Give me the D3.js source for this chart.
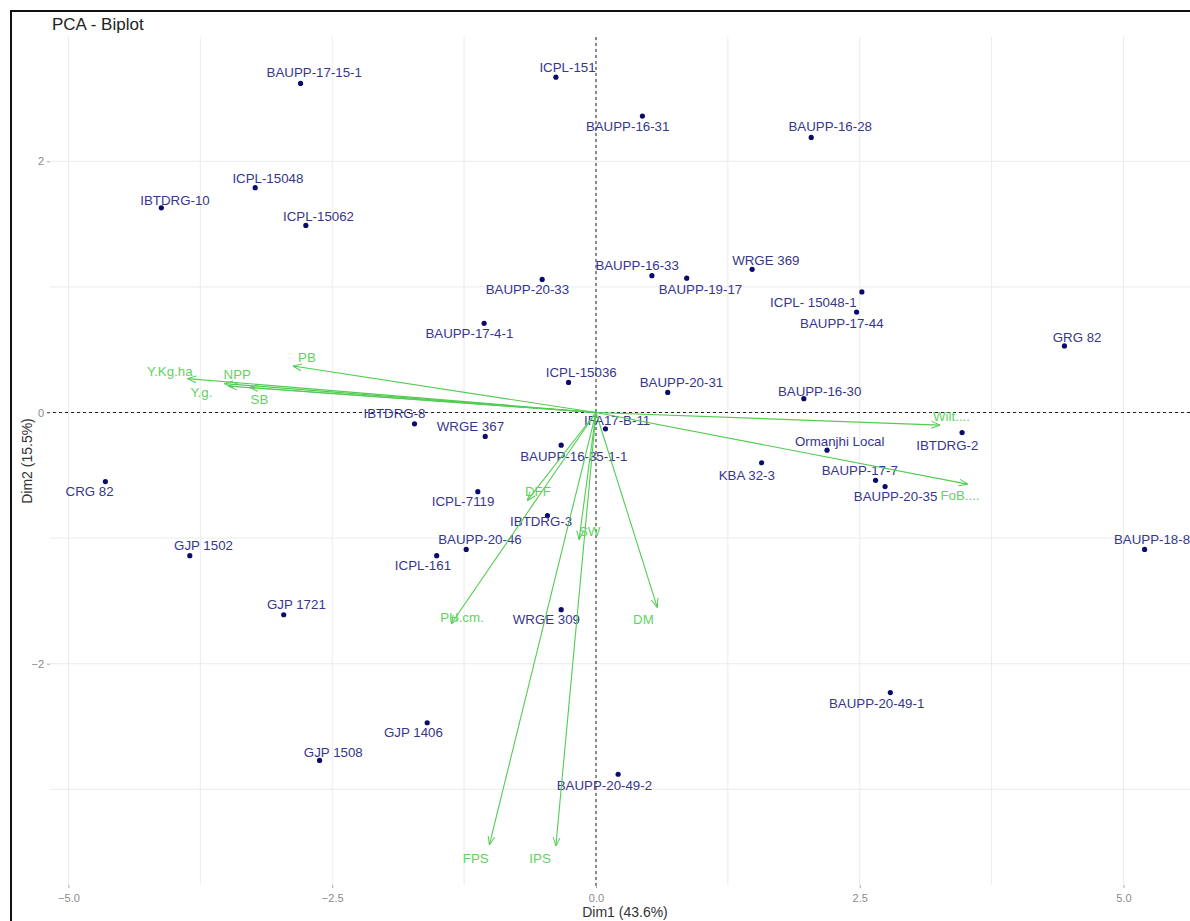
<!DOCTYPE html>
<html>
<head>
<meta charset="utf-8">
<script src="https://cdn.jsdelivr.net/npm/d3@7"></script>
<style>
  html, body { margin: 0; padding: 0; background: #fff; }
  svg { display: block; font-family: "Liberation Sans", Arial, sans-serif; }
</style>
</head>
<body>
<svg id="chart" width="1190" height="921"></svg>
<script>
// ---- Individuals (genotypes): PCA coordinates ----
const genotypes = [
  "BAUPP-17-15-1", "ICPL-151", "BAUPP-16-31", "BAUPP-16-28", "ICPL-15048",
  "IBTDRG-10", "ICPL-15062", "BAUPP-16-33", "WRGE 369", "BAUPP-20-33",
  "BAUPP-19-17", "ICPL- 15048-1", "BAUPP-17-44", "BAUPP-17-4-1", "GRG 82",
  "ICPL-15036", "BAUPP-20-31", "BAUPP-16-30", "IBTDRG-8", "WRGE 367",
  "IFA17-B-11", "IBTDRG-2", "Ormanjhi Local", "BAUPP-16-35-1-1", "KBA 32-3",
  "BAUPP-17-7", "CRG 82", "BAUPP-20-35", "ICPL-7119", "IBTDRG-3",
  "BAUPP-20-46", "GJP 1502", "ICPL-161", "BAUPP-18-8", "GJP 1721",
  "WRGE 309", "BAUPP-20-49-1", "GJP 1406", "GJP 1508", "BAUPP-20-49-2"
];
const dim1 = [
  -2.80, -0.38, 0.44, 2.04, -3.23,
  -4.12, -2.75, 0.53, 1.48, -0.51,
  0.86, 2.52, 2.47, -1.06, 4.44,
  -0.26, 0.68, 1.97, -1.72, -1.05,
  0.09, 3.47, 2.19, -0.33, 1.57,
  2.65, -4.65, 2.74, -1.12, -0.46,
  -1.23, -3.85, -1.51, 5.20, -2.96,
  -0.33, 2.79, -1.60, -2.62, 0.21
];
const dim2 = [
  2.62, 2.67, 2.36, 2.19, 1.79,
  1.63, 1.49, 1.09, 1.14, 1.06,
  1.07, 0.96, 0.80, 0.71, 0.53,
  0.24, 0.16, 0.11, -0.09, -0.19,
  -0.13, -0.16, -0.30, -0.26, -0.40,
  -0.54, -0.55, -0.59, -0.63, -0.82,
  -1.09, -1.14, -1.14, -1.09, -1.61,
  -1.57, -2.23, -2.47, -2.77, -2.88
];
// repelled label anchors (same units as the axes)
const labelDim1 = [
  -2.67, -0.27, 0.30, 2.22, -3.11,
  -3.99, -2.63, 0.39, 1.61, -0.65,
  0.99, 2.06, 2.33, -1.20, 4.56,
  -0.14, 0.81, 2.12, -1.91, -1.19,
  0.20, 3.33, 2.31, -0.21, 1.43,
  2.50, -4.80, 2.84, -1.26, -0.52,
  -1.10, -3.72, -1.64, 5.27, -2.84,
  -0.47, 2.66, -1.73, -2.49, 0.08
];
const labelDim2 = [
  2.71, 2.75, 2.28, 2.28, 1.86,
  1.69, 1.56, 1.17, 1.21, 0.98,
  0.98, 0.88, 0.71, 0.63, 0.60,
  0.32, 0.24, 0.17, -0.01, -0.11,
  -0.06, -0.26, -0.23, -0.35, -0.50,
  -0.46, -0.63, -0.67, -0.71, -0.87,
  -1.01, -1.06, -1.22, -1.01, -1.53,
  -1.65, -2.32, -2.55, -2.71, -2.97
];

// ---- Variables (traits): loadings as arrows ----
const traits = ["Y.Kg.ha", "NPP", "Y.g.", "SB", "PB", "Wilt....", "FoB....",
                "DM", "DFF", "SW", "PH.cm.", "FPS", "IPS"];
const traitDim1 = [-3.87, -3.52, -3.48, -3.28, -2.87, 3.26, 3.52,
                   0.58, -0.65, -0.16, -1.37, -1.01, -0.38];
const traitDim2 = [0.27, 0.23, 0.21, 0.20, 0.37, -0.10, -0.57,
                   -1.55, -0.70, -1.01, -1.68, -3.44, -3.45];
const traitLabelDim1 = [-4.04, -3.40, -3.74, -3.19, -2.74, 3.37, 3.45,
                        0.45, -0.55, -0.06, -1.27, -1.14, -0.53];
const traitLabelDim2 = [0.33, 0.30, 0.16, 0.10, 0.44, -0.03, -0.66,
                        -1.65, -0.63, -0.95, -1.63, -3.55, -3.55];

// ---- Axes ----
const xTicks = [-5, -2.5, 0, 2.5, 5];
const xMinor = [-3.75, -1.25, 1.25, 3.75];
const yTicks = [-2, 0, 2];
const yMinor = [-3, -1, 1];

const title = "PCA - Biplot";
const xTitle = "Dim1 (43.6%)";
const yTitle = "Dim2 (15.5%)";

// ---- Layout ----
const panel = { left: 50, right: 1200, top: 37, bottom: 885 };
const x = d3.scaleLinear().domain([-5.175, 5.725]).range([panel.left, panel.right]);
const y = d3.scaleLinear().domain([-3.762, 2.99]).range([panel.bottom, panel.top]);

const GRID = "#ebebeb";
const IND = "#0b0b6e";
const IND_TEXT = "#36368c";
const VAR = "#52cc52";
const VAR_TEXT = "#5fd35f";

const svg = d3.select("#chart");

// outer frame
svg.append("rect")
  .attr("x", 11).attr("y", 11)
  .attr("width", 1200).attr("height", 940)
  .attr("fill", "none").attr("stroke", "#111").attr("stroke-width", 2);

// grid
const grid = svg.append("g");
grid.selectAll("line.vx")
  .data(xTicks.concat(xMinor))
  .join("line")
  .attr("x1", d => x(d)).attr("x2", d => x(d))
  .attr("y1", panel.top).attr("y2", panel.bottom)
  .attr("stroke", GRID).attr("stroke-width", 1);
grid.selectAll("line.hy")
  .data(yTicks.concat(yMinor))
  .join("line")
  .attr("x1", panel.left).attr("x2", panel.right)
  .attr("y1", d => y(d)).attr("y2", d => y(d))
  .attr("stroke", GRID).attr("stroke-width", 1);

// reference lines through origin
svg.append("line")
  .attr("x1", panel.left - 3).attr("x2", panel.right)
  .attr("y1", y(0)).attr("y2", y(0))
  .attr("stroke", "#222").attr("stroke-dasharray", "3,3");
svg.append("line")
  .attr("x1", x(0)).attr("x2", x(0))
  .attr("y1", panel.top).attr("y2", panel.bottom + 2)
  .attr("stroke", "#222").attr("stroke-dasharray", "3,3");

// axes
const xAxis = svg.append("g")
  .attr("transform", `translate(0,${panel.bottom})`)
  .call(d3.axisBottom(x).tickValues(xTicks).tickSize(3).tickPadding(6)
    .tickFormat(d3.format(".1f")));
const yAxis = svg.append("g")
  .attr("transform", `translate(${panel.left},0)`)
  .call(d3.axisLeft(y).tickValues(yTicks).tickSize(3).tickPadding(3)
    .tickFormat(d3.format("d")));
[xAxis, yAxis].forEach(a => {
  a.select(".domain").remove();
  a.selectAll(".tick line").attr("stroke", "#aaa");
  a.selectAll(".tick text")
    .attr("fill", "#8a8a8a")
    .style("font-size", "11px")
    .style("font-family", "'Liberation Sans', Arial, sans-serif");
});

// arrow marker
svg.append("defs").append("marker")
  .attr("id", "arrow")
  .attr("viewBox", "0 0 10 10")
  .attr("refX", 9.5).attr("refY", 5)
  .attr("markerWidth", 9).attr("markerHeight", 9)
  .attr("markerUnits", "userSpaceOnUse")
  .attr("orient", "auto")
  .append("path")
  .attr("d", "M0,1.2 L10,5 L0,8.8")
  .attr("fill", "none").attr("stroke", VAR).attr("stroke-width", 1.1);

// individuals
const ind = svg.append("g");
ind.selectAll("circle")
  .data(genotypes)
  .join("circle")
  .attr("cx", (d, i) => x(dim1[i]))
  .attr("cy", (d, i) => y(dim2[i]))
  .attr("r", 2.6)
  .attr("fill", IND);
ind.selectAll("text")
  .data(genotypes)
  .join("text")
  .attr("x", (d, i) => x(labelDim1[i]))
  .attr("y", (d, i) => y(labelDim2[i]))
  .attr("text-anchor", "middle")
  .attr("dominant-baseline", "central")
  .attr("fill", IND_TEXT)
  .style("font-size", "13.3px")
  .text(d => d);

// variables
const vars = svg.append("g");
vars.selectAll("line")
  .data(traits)
  .join("line")
  .attr("x1", x(0)).attr("y1", y(0))
  .attr("x2", (d, i) => x(traitDim1[i]))
  .attr("y2", (d, i) => y(traitDim2[i]))
  .attr("stroke", VAR).attr("stroke-width", 1.1)
  .attr("marker-end", "url(#arrow)");
vars.selectAll("text")
  .data(traits)
  .join("text")
  .attr("x", (d, i) => x(traitLabelDim1[i]))
  .attr("y", (d, i) => y(traitLabelDim2[i]))
  .attr("text-anchor", "middle")
  .attr("dominant-baseline", "central")
  .attr("fill", VAR_TEXT)
  .style("font-size", "13.3px")
  .text(d => d);

// titles
svg.append("text")
  .attr("x", 52).attr("y", 30)
  .attr("fill", "#222")
  .style("font-size", "17px")
  .text(title);
svg.append("text")
  .attr("x", (panel.left + panel.right) / 2).attr("y", 912)
  .attr("text-anchor", "middle").attr("dominant-baseline", "central")
  .attr("fill", "#333")
  .style("font-size", "14px")
  .text(xTitle);
svg.append("text")
  .attr("transform", `translate(27,${(panel.top + panel.bottom) / 2}) rotate(-90)`)
  .attr("text-anchor", "middle").attr("dominant-baseline", "central")
  .attr("fill", "#333")
  .style("font-size", "14px")
  .text(yTitle);
</script>
</body>
</html>
